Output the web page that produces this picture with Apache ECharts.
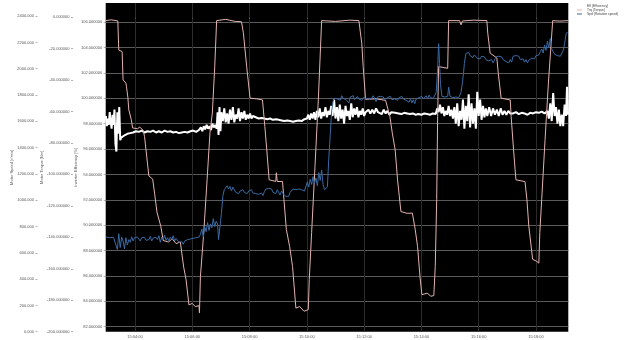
<!DOCTYPE html>
<html><head><meta charset="utf-8">
<script src="https://cdn.jsdelivr.net/npm/echarts@6/dist/echarts.min.js"></script>
<style>html,body{margin:0;padding:0;background:#fff}#c{width:635px;height:340px}</style>
</head><body><div id="c"></div>
<script>
// time in seconds after 15:00:00
const xTicks = [240, 360, 480, 600, 720, 840, 960, 1080];
const effTicks = [82, 84, 86, 88, 90, 92, 94, 96, 98, 100, 102, 104, 106];
const trqTicks = [0, -20, -40, -60, -80, -100, -120, -140, -160, -180, -200];
const spdTicks = [0, 200, 400, 600, 800, 1000, 1200, 1400, 1600, 1800, 2000, 2200, 2400];
const legendNames = ['Eff (Efficiency)', 'Trq (Torque)', 'Spd (Rotation speed)'];

const trqTime = [179,190,204,206,213,215,221,222,225,227,232,235,245,250,257,260,269,273,277,281,286,294,299,310,318,326,335,338,342,347,353,360,366,374,375,377,384,391,397,402,407,411,430,450,463,467,474,481,495,507,512,516,521,535,536,538,549,552,557,564,570,577,585,594,603,605,610,617,624,631,660,690,709,715,718,723,745,765,774,779,785,790,797,810,821,827,832,837,841,852,860,866,869,872,874,876,895,897,920,923,926,950,977,979,984,998,1001,1007,1026,1028,1033,1038,1057,1061,1065,1073,1080,1086,1088,1092,1099,1106,1115,1130,1147];
const trqVal = [-2.3,-1.8,-2.5,-21,-22,-40,-42,-44,-51,-59,-65,-70.5,-71,-70,-72,-76,-101,-102,-103,-112,-124,-133,-142,-143,-141,-144,-143,-150,-159,-167,-183,-182,-184,-183.5,-188,-165,-137,-103.5,-73.6,-61,-31.7,-2.3,-1.5,-2.8,-3,-10,-31.7,-51.6,-52,-52.7,-69.6,-84.4,-103.5,-104.5,-99,-104.5,-104.6,-116,-135,-146,-158.5,-185,-184,-187,-186,-167,-137,-95,-52.7,-2.3,-2.8,-2,-2.3,-16.7,-31.5,-52.3,-52,-53,-63.3,-73.8,-84.4,-103.5,-123.6,-124.8,-124.6,-135,-146,-165,-176.5,-175.5,-177.5,-177,-158.5,-116,-63.3,-31.5,-32.6,-2.3,-2.3,-5,-2.5,-2,-2.3,-10.4,-23,-26,-35.7,-51.6,-52.7,-63.3,-84.4,-103.5,-104.6,-116,-133,-154,-155,-156.4,-137,-116,-78,-42,-2.3,-2.6,-2.3];

const spdTime = [179,183,187,191,195,199,203,206,209,212,215,218,221,224,227,230,233,236,239,242,245,248,251,254,257,260,263,266,269,272,275,278,281,284,287,290,293,296,299,302,305,308,311,314,317,320,323,326,329,332,335,338,341,344,347,350,353,356,359,362,365,368,371,374,377,380,383,386,389,392,395,398,401,404,407,410,413,415,418,421,424,427,430,433,436,439,442,445,448,451,454,457,460,463,466,469,472,475,478,481,484,487,490,493,496,499,502,505,508,511,514,517,520,523,526,529,532,535,538,541,544,547,550,553,556,559,562,565,568,571,574,577,580,583,586,589,592,595,598,601,604,607,610,613,616,619,622,625,628,631,634,637,640,643,646,649,652,655,658,661,664,667,670,673,676,679,682,685,688,691,694,697,700,703,706,709,712,715,718,721,724,727,730,733,736,739,742,745,748,751,754,757,760,763,766,769,772,775,778,781,784,787,790,793,796,799,802,805,808,811,814,817,820,823,826,829,832,835,838,841,844,847,850,853,856,859,862,865,868,871,874,876,878,880,883,886,889,892,895,897,900,903,906,909,912,915,918,921,923,926,928,930,933,936,939,942,945,948,951,954,957,960,963,966,969,972,975,978,981,984,987,990,993,996,999,1002,1005,1008,1011,1014,1017,1020,1023,1026,1029,1032,1035,1038,1041,1044,1047,1050,1053,1056,1059,1062,1065,1068,1071,1074,1077,1080,1083,1086,1089,1092,1095,1098,1101,1104,1107,1110,1113,1116,1119,1122,1125,1128,1131,1134,1137,1140,1143,1146];
const spdVal = [720,705,715,700,718,710,625,745,640,720,690,630,715,660,700,680,722,690,715,700,720,705,690,715,700,718,695,710,700,725,690,712,705,718,700,730,680,720,700,735,695,715,690,720,700,730,690,710,695,680,670,685,665,690,680,700,695,705,700,710,705,715,708,720,740,780,720,800,760,830,770,820,790,860,800,840,820,700,705,900,1030,1080,1095,1110,1085,1105,1070,1100,1085,1060,1075,1050,1070,1055,1080,1060,1075,1050,1070,1060,1080,1055,1070,1050,1065,1045,1030,1055,1035,1065,1085,1070,1090,1075,1085,1060,1070,1050,1080,1060,1040,1070,1050,1035,1030,1045,1030,1060,1075,1085,1070,1080,1075,1085,1070,1080,1075,1070,1085,1140,1100,1160,1120,1180,1130,1170,1110,1210,1150,1230,1120,1080,1075,1100,1320,1500,1680,1750,1775,1790,1770,1785,1760,1795,1775,1790,1765,1780,1740,1785,1770,1795,1765,1780,1790,1770,1785,1760,1780,1795,1775,1790,1770,1785,1775,1795,1780,1750,1785,1770,1790,1775,1785,1765,1760,1780,1770,1790,1765,1780,1770,1785,1760,1780,1775,1790,1770,1785,1760,1775,1745,1770,1740,1765,1735,1770,1755,1780,1765,1790,1770,1785,1795,1770,1800,1780,1790,1775,1785,1820,2000,2190,2040,1880,1790,1775,1785,1770,1790,1860,1790,1775,1780,1770,1785,1775,1780,1790,1820,1900,1960,2040,2115,2100,2125,2100,2110,2085,2105,2090,2080,2095,2075,2095,2080,2090,2070,2085,2060,2050,2070,2045,2065,2090,2075,2095,2080,2090,2070,2080,2055,2065,2045,2070,2050,2095,2110,2100,2085,2095,2070,2060,2075,2050,2070,2045,2065,2055,2080,2090,2075,2100,2090,2105,2130,2150,2120,2180,2140,2210,2160,2230,2150,2130,2110,2120,2100,2115,2095,2110,2140,2190,2265,2280];

const effTime = [179,181,183,185,187,189,191,193,195,197,199,201,203,205,207,209,211,214,219,224,230,236,242,248,254,260,266,272,278,284,290,296,302,308,314,320,326,332,338,344,350,356,362,368,374,378,381,384,387,390,393,396,399,402,405,408,411,413,415,417,419,421,424,427,430,433,436,439,442,445,448,451,454,457,460,463,466,469,472,475,478,481,484,487,493,499,505,511,517,523,529,535,541,547,553,559,565,571,577,583,589,595,600,603,606,609,612,615,618,621,624,627,630,633,636,639,642,645,648,651,654,657,660,663,666,669,672,675,678,681,684,687,690,693,696,699,702,705,708,711,714,717,720,723,726,729,733,737,741,745,749,753,757,761,765,769,773,777,781,785,792,798,804,810,816,822,828,834,840,846,852,858,864,870,873,876,879,882,885,888,891,894,897,900,903,906,909,912,915,918,921,924,927,930,933,936,939,942,945,948,951,954,957,960,963,966,969,972,975,978,982,986,990,994,998,1002,1006,1010,1014,1018,1022,1026,1032,1038,1044,1050,1056,1062,1068,1074,1080,1086,1092,1098,1104,1107,1110,1113,1116,1119,1122,1125,1128,1131,1134,1137,1140,1143,1145,1147];
const effVal = [98.6,97.8,98.4,97.9,98.9,98.1,97.6,98.7,97.9,99.1,96.4,95.8,98.9,97.2,99.3,96.7,96.9,97.0,97.1,97.2,97.25,97.3,97.4,97.35,97.45,97.3,97.4,97.35,97.45,97.3,97.4,97.3,97.45,97.35,97.4,97.3,97.35,97.25,97.3,97.35,97.3,97.4,97.45,97.35,97.5,97.7,97.4,97.8,97.55,97.9,97.6,97.8,97.5,98.0,97.7,97.9,97.6,98.9,97.1,99.3,97.4,98.9,98.2,99.2,98.1,98.8,98.0,99.1,98.3,99.3,98.1,98.7,98.4,99.2,98.2,98.9,98.4,99.0,98.3,98.7,98.4,98.8,98.4,98.6,98.5,98.4,98.45,98.4,98.35,98.4,98.3,98.35,98.3,98.25,98.2,98.25,98.2,98.15,98.2,98.25,98.2,98.35,98.4,98.7,98.3,98.8,98.4,98.9,98.3,99.0,98.5,99.2,98.4,98.9,98.6,99.3,98.5,99.0,98.7,99.4,98.6,99.9,98.4,99.3,98.2,99.5,98.4,99.1,98.0,99.4,98.6,99.0,98.3,99.6,98.5,99.2,98.7,99.3,98.5,99.0,98.7,99.2,98.6,98.9,98.8,99.1,98.8,99.1,98.8,99.2,98.9,99.0,98.75,99.1,98.8,99.0,98.7,98.9,98.75,98.85,98.8,98.75,98.85,98.8,98.75,98.8,98.7,98.75,98.7,98.8,98.75,98.7,98.8,98.75,99.2,98.9,99.5,98.8,99.3,98.6,99.0,98.7,99.4,98.6,99.1,98.4,99.3,98.0,99.6,97.8,99.0,98.3,99.9,97.6,99.4,98.2,100.3,97.7,99.6,98.0,99.2,97.6,100.5,98.6,99.9,98.3,99.4,98.5,99.2,98.6,99.3,98.6,99.2,98.7,99.1,98.6,99.2,98.7,99.0,98.7,99.0,98.8,98.8,98.9,98.75,98.85,98.8,98.7,98.85,98.8,98.9,98.85,98.95,98.8,99.0,98.4,99.6,98.2,100.4,98.6,99.3,98.0,99.1,97.8,98.7,97.8,99.5,98.6,100.9,98.7];

function zip(t, v) { return t.map((x, i) => [x, v[i]]); }
function pad(n) { return (n < 10 ? '0' : '') + n; }
const FONT = 'Liberation Sans';
const labelColor = '#555';

const chart = echarts.init(document.getElementById('c'), null, {renderer: 'canvas'});
function yAxisBase(min, max, ticks, offset, name, gap, fmt, split) {
  return {
    type: 'value', position: 'left', offset: offset, min: min, max: max,
    name: name, nameLocation: 'middle', nameGap: gap, nameMoveOverlap: false,
    nameTextStyle: {fontSize: 4, color: labelColor, fontFamily: FONT},
    axisLine: {show: false},
    axisTick: {show: true, length: 2, customValues: ticks, lineStyle: {color: '#666', width: 0.5}},
    axisLabel: {customValues: ticks, fontSize: 4, color: labelColor, fontFamily: FONT, margin: 3.5, formatter: fmt},
    splitLine: {show: split, lineStyle: {color: '#5a5a5a', width: 1}}
  };
}
chart.setOption({
  animation: false,
  backgroundColor: '#fff',
  legend: {
    orient: 'vertical', left: 577, top: 4.5, itemWidth: 5, itemHeight: 1, itemGap: 1,
    icon: 'rect', padding: 0,
    textStyle: {fontSize: 3.3, color: '#444', fontFamily: FONT},
    data: legendNames
  },
  grid: {left: 105.7, right: 66.7, top: 3, bottom: 8.3, show: true, backgroundColor: '#000', borderWidth: 0},
  xAxis: {
    type: 'value', min: 178.6, max: 1147.7,
    axisLine: {show: false},
    axisTick: {show: true, length: 2, customValues: xTicks, lineStyle: {color: '#666', width: 0.5}},
    axisLabel: {customValues: xTicks, fontSize: 4, color: labelColor, fontFamily: FONT, margin: 3,
      formatter: v => '15:' + pad(Math.floor(v / 60)) + ':' + pad(Math.round(v % 60))},
    splitLine: {show: true, lineStyle: {color: '#2b2b2b', width: 1}}
  },
  yAxis: [
    yAxisBase(81.61, 107.5, effTicks, 0, 'Inverter Efficiency [%]', 27.5, v => v.toFixed(6), true),
    yAxisBase(-200, 8.9, trqTicks, 32.7, 'Motor Torque [Nm]', 29, v => v.toFixed(6), false),
    yAxisBase(0, 2500, spdTicks, 68.2, 'Motor Speed [r/min]', 23.5, v => v.toFixed(3), false)
  ],
  series: [
    {name: legendNames[0], type: 'line', yAxisIndex: 0, data: zip(effTime, effVal), showSymbol: false,
      lineStyle: {color: '#ffffff', width: 2}, itemStyle: {color: '#ffffff'}},
    {name: legendNames[1], type: 'line', yAxisIndex: 1, data: zip(trqTime, trqVal), showSymbol: false,
      lineStyle: {color: '#e2b3b0', width: 1}, itemStyle: {color: '#e2b3b0'}},
    {name: legendNames[2], type: 'line', yAxisIndex: 2, data: zip(spdTime, spdVal), showSymbol: false,
      lineStyle: {color: '#3a6aa3', width: 1}, itemStyle: {color: '#3a6aa3'}}
  ]
});
</script>
</body></html>
